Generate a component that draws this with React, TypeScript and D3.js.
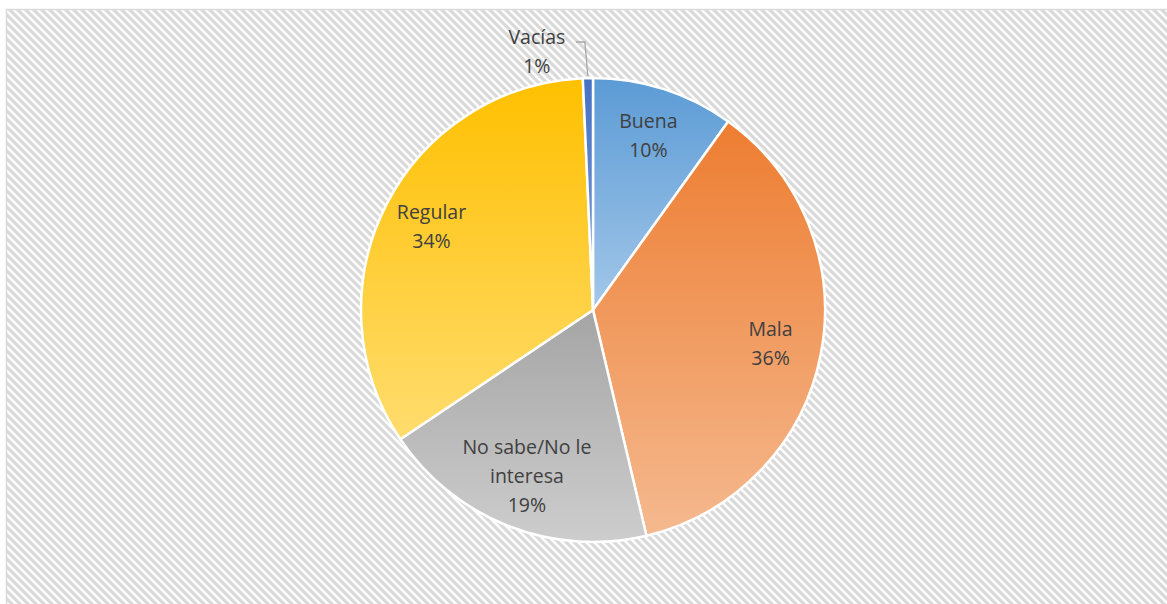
import React, { useEffect, useRef } from "react";
import * as d3 from "d3";

// Encuesta: valoración (porcentaje de respuestas)
const categories = ["Buena", "Mala", "No sabe/No le interesa", "Regular", "Vacías"];
const labelLines = [["Buena"], ["Mala"], ["No sabe/No le", "interesa"], ["Regular"], ["Vacías"]];
const values = [9.9, 36.4, 19.3, 33.7, 0.7];
const topColors = ["#5b9bd5", "#ed7d31", "#a5a5a5", "#ffc000", "#4472c4"];
const bottomColors = ["#a3c7e9", "#f5b98f", "#cdcdcd", "#ffdc6e", "#7f9fd8"];

const W = 1167;
const H = 604;

function App() {
    const ref = useRef<SVGSVGElement>(null);

    useEffect(() => {
        drawChart();
    }, []);

    function drawChart() {
        const svg = d3.select(ref.current);
        svg.selectAll("*").remove();

        const defs = svg.append("defs");
        const pat = defs
            .append("pattern")
            .attr("id", "hatch")
            .attr("width", 8)
            .attr("height", 8)
            .attr("patternUnits", "userSpaceOnUse");
        pat.append("rect").attr("width", 8).attr("height", 8).attr("fill", "#ffffff");
        pat.append("path")
            .attr("d", "M-2,-2 L10,10 M-2,6 L2,10 M6,-2 L10,2")
            .attr("stroke", "#d9d9d9")
            .attr("stroke-width", 3.2);

        categories.forEach((_, i) => {
            const g = defs
                .append("linearGradient")
                .attr("id", `grad${i}`)
                .attr("x1", 0).attr("y1", 0).attr("x2", 0).attr("y2", 1);
            g.append("stop").attr("offset", "0%").attr("stop-color", topColors[i]);
            g.append("stop").attr("offset", "100%").attr("stop-color", bottomColors[i]);
        });

        // chart area
        svg.append("rect")
            .attr("x", 6.5)
            .attr("y", 9.5)
            .attr("width", W + 10)
            .attr("height", H + 10)
            .attr("fill", "url(#hatch)")
            .attr("stroke", "#d9d9d9")
            .attr("stroke-width", 1.5);

        const cx = 593;
        const cy = 310;
        const R = 232;

        const g = svg.append("g").attr("transform", `translate(${cx}, ${cy})`);

        const pie = d3.pie<number>().sort(null).value((d) => d);
        const arcs = pie(values);
        const arcGen = d3.arc<d3.PieArcDatum<number>>().innerRadius(0).outerRadius(R);
        const labelArc = d3.arc<d3.PieArcDatum<number>>().innerRadius(181).outerRadius(181);

        g.selectAll("path.slice")
            .data(arcs)
            .enter()
            .append("path")
            .attr("class", "slice")
            .attr("d", arcGen)
            .attr("fill", (_, i) => `url(#grad${i})`)
            .attr("stroke", "#ffffff")
            .attr("stroke-width", 2.5)
            .attr("stroke-linejoin", "round");

        const fmt = (v: number) => `${Math.round(v)}%`;
        const fontSize = 19.5;
        const lineH = 29;

        arcs.forEach((d, i) => {
            const lines = [...labelLines[i], fmt(values[i])];
            let x: number;
            let yMid: number;
            if (i === categories.length - 1) {
                // small slice: label outside with leader line
                const a = (d.startAngle + d.endAngle) / 2;
                const px = Math.sin(a) * (R + 2);
                const py = -Math.cos(a) * (R + 2);
                const ey = -R - 36;
                const ex = px - 3;
                g.append("path")
                    .attr("d", `M${px},${py} L${ex},${ey} L${ex - 9},${ey}`)
                    .attr("fill", "none")
                    .attr("stroke", "#a6a6a6")
                    .attr("stroke-width", 1.3);
                x = ex - 48;
                yMid = ey + 11;
            } else {
                [x, yMid] = labelArc.centroid(d);
            }
            const text = g
                .append("text")
                .attr("text-anchor", "middle")
                .style("font-family", "'Open Sans', sans-serif")
                .style("font-size", `${fontSize}px`)
                .style("fill", "#404040");
            const y0 = yMid - ((lines.length - 1) * lineH) / 2 + 5;
            lines.forEach((ln, k) => {
                text.append("tspan").attr("x", x).attr("y", y0 + k * lineH).text(ln);
            });
        });
    }

    return (
        <div style={{ position: "absolute", left: 0, top: 0 }}>
            <svg ref={ref} width={W} height={H} style={{ display: "block" }} />
        </div>
    );
}

export default App;
